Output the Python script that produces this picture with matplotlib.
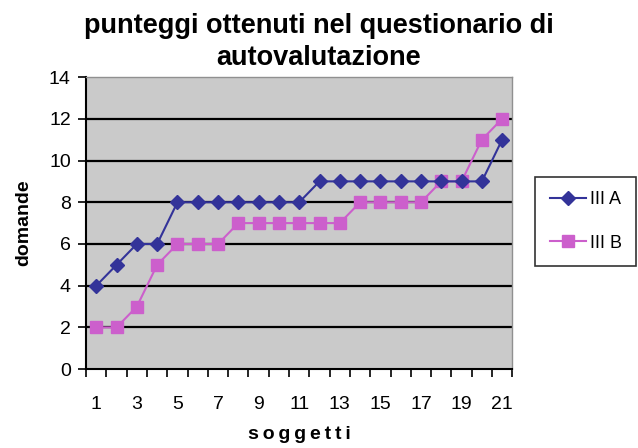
import matplotlib
import matplotlib.pyplot as plt
import numpy as np

matplotlib.use("Agg", force=True)
plt.rcParams["font.family"] = ["Liberation Sans", "DejaVu Sans"]

soggetti = np.arange(1, 22)
iii_a = [4, 5, 6, 6, 8, 8, 8, 8, 8, 8, 8, 9, 9, 9, 9, 9, 9, 9, 9, 9, 11]
iii_b = [2, 2, 3, 5, 6, 6, 6, 7, 7, 7, 7, 7, 7, 8, 8, 8, 8, 9, 9, 11, 12]
y_ticks = [0, 2, 4, 6, 8, 10, 12, 14]
x_labels = [1, 3, 5, 7, 9, 11, 13, 15, 17, 19, 21]

fig = plt.figure(figsize=(6.38, 4.48), dpi=100)
ax = fig.add_axes([0.135, 0.176, 0.668, 0.652])
ax.set_facecolor("#cacaca")

for y in y_ticks[1:-1]:
    ax.axhline(y, color="black", linewidth=1.6, zorder=1)

ax.plot(soggetti, iii_b, color="#cc5fcc", linewidth=1.5, marker="s",
        markersize=8, markerfacecolor="#cc5fcc", markeredgecolor="#cc5fcc",
        label="III B", zorder=3)
ax.plot(soggetti, iii_a, color="#333399", linewidth=1.5, marker="D",
        markersize=7.5, markerfacecolor="#333399", markeredgecolor="#333399",
        label="III A", zorder=4)

ax.set_xlim(0.5, 21.5)
ax.set_ylim(0, 14)
ax.set_yticks(y_ticks)
ax.set_xticks(np.arange(0.5, 22, 1))
ax.set_xticklabels([])
ax.set_xticks(x_labels, minor=True)
ax.set_xticklabels([str(v) for v in x_labels], minor=True)
ax.tick_params(axis="x", which="major", direction="out", length=6, width=1.2, color="black")
ax.tick_params(axis="x", which="minor", length=0, pad=19, labelsize=14)
ax.tick_params(axis="y", direction="out", length=6, width=1.2, labelsize=14, pad=5)

for side in ("left", "bottom"):
    ax.spines[side].set_color("black")
    ax.spines[side].set_linewidth(1.5)
for side in ("top", "right"):
    ax.spines[side].set_color("#909090")
    ax.spines[side].set_linewidth(1.0)

ax.set_xlabel("s\u2009o\u2009g\u2009g\u2009e\u2009t\u2009t\u2009i", fontsize=14,
              fontweight="bold", labelpad=10)
ax.set_ylabel("domande", fontsize=14, fontweight="bold", labelpad=12)
fig.suptitle("punteggi ottenuti nel questionario di\nautovalutazione",
             fontsize=19.5, fontweight="bold", y=0.972, linespacing=1.3)

handles, labels = ax.get_legend_handles_labels()
leg = fig.legend(handles[::-1], labels[::-1], loc="upper right",
                 bbox_to_anchor=(0.997, 0.605), fontsize=13, frameon=True,
                 fancybox=False, edgecolor="black", handlelength=2.0,
                 borderpad=0.8, labelspacing=1.45, handletextpad=0.2,
                 borderaxespad=0.0)
leg.get_frame().set_linewidth(1.2)

fig.savefig("out.png", dpi=100)
